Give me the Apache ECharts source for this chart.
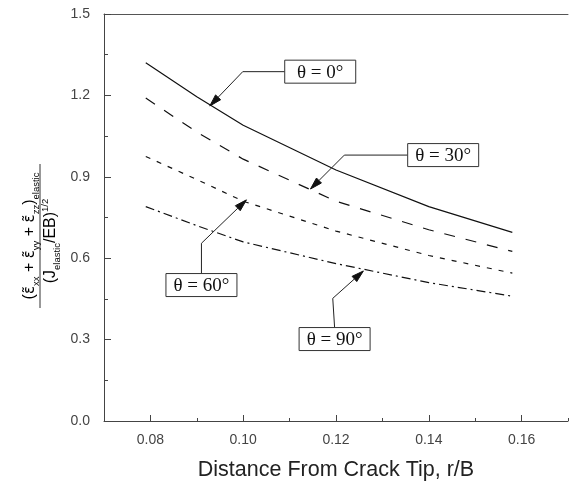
<!DOCTYPE html>
<html><head><meta charset="utf-8">
<script src="https://cdn.jsdelivr.net/npm/echarts@6/dist/echarts.min.js"></script>
<style>html,body{margin:0;padding:0;background:#fff}#c{width:569px;height:484px}</style>
</head><body><div id="c"></div>
<script>
// ---- data ----
const rValues = [0.079, 0.09, 0.10, 0.12, 0.14, 0.158];
const theta0 = [1.32, 1.195, 1.09, 0.925, 0.79, 0.695];
const theta30 = [1.19, 1.065, 0.965, 0.81, 0.705, 0.625];
const theta60 = [0.975, 0.89, 0.81, 0.70, 0.61, 0.545];
const theta90 = [0.79, 0.72, 0.66, 0.58, 0.51, 0.46];
const xMajorTicks = [0.08, 0.10, 0.12, 0.14, 0.16];
const xMinorTicks = [0.07, 0.09, 0.11, 0.13, 0.15, 0.17];
const seriesNames = ['θ = 0°', 'θ = 30°', 'θ = 60°', 'θ = 90°'];
// annotation anchors in data coordinates: box centre, elbow, arrow tip
const annBox = [[0.1166, 1.2875], [0.1431, 0.980], [0.0910, 0.501], [0.1197, 0.302]];
const annElbow = [[0.0999, 1.2875], [0.1218, 0.980], [0.0910, 0.655], [0.1193, 0.452]];
const annTip = [[0.0928, 1.161], [0.1145, 0.855], [0.1007, 0.815], [0.1259, 0.553]];
const annSide = ['left', 'left', 'top', 'top'];

const allSeries = [theta0, theta30, theta60, theta90];
const dashes = ['solid', [11, 11], [5, 7], [9, 4, 2, 4]];

const chart = echarts.init(document.getElementById('c'), null, {renderer: 'canvas'});
const SANS = 'Liberation Sans, Arial, sans-serif';
const SERIF = 'Liberation Serif, Times New Roman, serif';

chart.setOption({
  animation: false,
  backgroundColor: '#fff',
  grid: {left: 104, right: 1, top: 14, bottom: 63, containLabel: false, outerBoundsMode: 'none'},
  xAxis: [{
    type: 'value', min: 0.07, max: 0.17,
    name: 'Distance From Crack Tip, r/B', nameLocation: 'middle', nameGap: 38,
    nameTextStyle: {fontFamily: SANS, fontSize: 21.5, color: '#222'},
    axisLine: {show: true, lineStyle: {color: '#444', width: 1}},
    axisTick: {show: true, inside: true, length: 6, customValues: xMajorTicks, lineStyle: {color: '#444'}},
    axisLabel: {customValues: xMajorTicks, formatter: v => v.toFixed(2), fontFamily: SANS, fontSize: 14, color: '#444', margin: 12},
    splitLine: {show: false}
  }, {
    type: 'value', min: 0.07, max: 0.17, position: 'bottom',
    axisLine: {show: false},
    axisTick: {show: true, inside: true, length: 3, customValues: xMinorTicks, lineStyle: {color: '#444'}},
    axisLabel: {show: false}, splitLine: {show: false}
  }, {
    type: 'value', min: 0.07, max: 0.17, position: 'top',
    axisLine: {show: true, lineStyle: {color: '#555', width: 1}},
    axisTick: {show: false}, axisLabel: {show: false}, splitLine: {show: false}
  }],
  yAxis: {
    type: 'value', min: 0, max: 1.5, interval: 0.3,
    axisLine: {show: true, lineStyle: {color: '#444', width: 1}},
    axisTick: {show: true, inside: true, length: 7, lineStyle: {color: '#444'}},
    minorTick: {show: true, splitNumber: 2, length: 4, lineStyle: {color: '#444'}},
    axisLabel: {formatter: v => v.toFixed(1), fontFamily: SANS, fontSize: 14, color: '#444', margin: 14},
    splitLine: {show: false}
  },
  series: allSeries.map((vals, i) => ({
    name: seriesNames[i], type: 'line', xAxisIndex: 0, yAxisIndex: 0,
    showSymbol: false, symbol: 'none', smooth: false,
    data: rValues.map((r, j) => [r, vals[j]]),
    lineStyle: {color: '#111', width: 1.2, type: dashes[i]}
  }))
});

function px(p) { return chart.convertToPixel({seriesIndex: 0}, p); }

const graphics = [];
const BW = 71, BH = 23;
for (let i = 0; i < annBox.length; i++) {
  const b = px(annBox[i]), e = px(annElbow[i]), t = px(annTip[i]);
  const start = annSide[i] === 'left' ? [b[0] - BW / 2, b[1]] : [b[0], b[1] - BH / 2];
  const dx = t[0] - e[0], dy = t[1] - e[1], L = Math.hypot(dx, dy);
  const ux = dx / L, uy = dy / L, nx = -uy, ny = ux;
  const AL = 12, AW = 3.5;
  const base = [t[0] - ux * AL, t[1] - uy * AL];
  graphics.push({type: 'polyline', shape: {points: [start, e, base]}, style: {stroke: '#222', lineWidth: 1, fill: null}, z: 10});
  graphics.push({type: 'polygon', shape: {points: [t, [base[0] + nx * AW, base[1] + ny * AW], [base[0] - nx * AW, base[1] - ny * AW]]}, style: {fill: '#111', stroke: '#111'}, z: 10});
  graphics.push({type: 'rect', shape: {x: b[0] - BW / 2, y: b[1] - BH / 2, width: BW, height: BH}, style: {fill: '#fff', stroke: '#333', lineWidth: 1}, z: 10});
  graphics.push({type: 'text', x: b[0], y: b[1] + 1, style: {text: seriesNames[i], fontFamily: SERIF, fontSize: 19, fill: '#111', textAlign: 'center', textVerticalAlign: 'middle'}, z: 11});
}

// y-axis title: stacked fraction, rotated
const richStyles = {
  m: {fontFamily: SANS, fontSize: 16, lineHeight: 22, verticalAlign: 'middle', color: '#222'},
  e: {fontFamily: 'DejaVu Sans', fontSize: 15, lineHeight: 22, verticalAlign: 'middle', color: '#222'},
  s: {fontFamily: SANS, fontSize: 9.5, lineHeight: 10, verticalAlign: 'bottom', color: '#222'},
  t: {fontFamily: SANS, fontSize: 9.5, lineHeight: 10, verticalAlign: 'top', color: '#222'}
};
graphics.push({
  type: 'group', x: 40, y: 236, rotation: Math.PI / 2,
  children: [
    {type: 'line', shape: {x1: -72, y1: 0, x2: 72, y2: 0}, style: {stroke: '#333', lineWidth: 1}},
    {type: 'text', x: 0, y: -10, style: {
      text: '{m|(}{e|ε\u0303}{s|xx}{m| + }{e|ε\u0303}{s|yy}{m| + }{e|ε\u0303}{s|zz}{m|)}{s|elastic}',
      rich: richStyles, textAlign: 'center', textVerticalAlign: 'middle'}},
    {type: 'text', x: -5, y: 11, style: {
      text: '{m|(J}{s|elastic}{m|/EB)}{t|1/2}',
      rich: richStyles, textAlign: 'center', textVerticalAlign: 'middle'}}
  ]
});

chart.setOption({graphic: graphics});
</script>
</body></html>
